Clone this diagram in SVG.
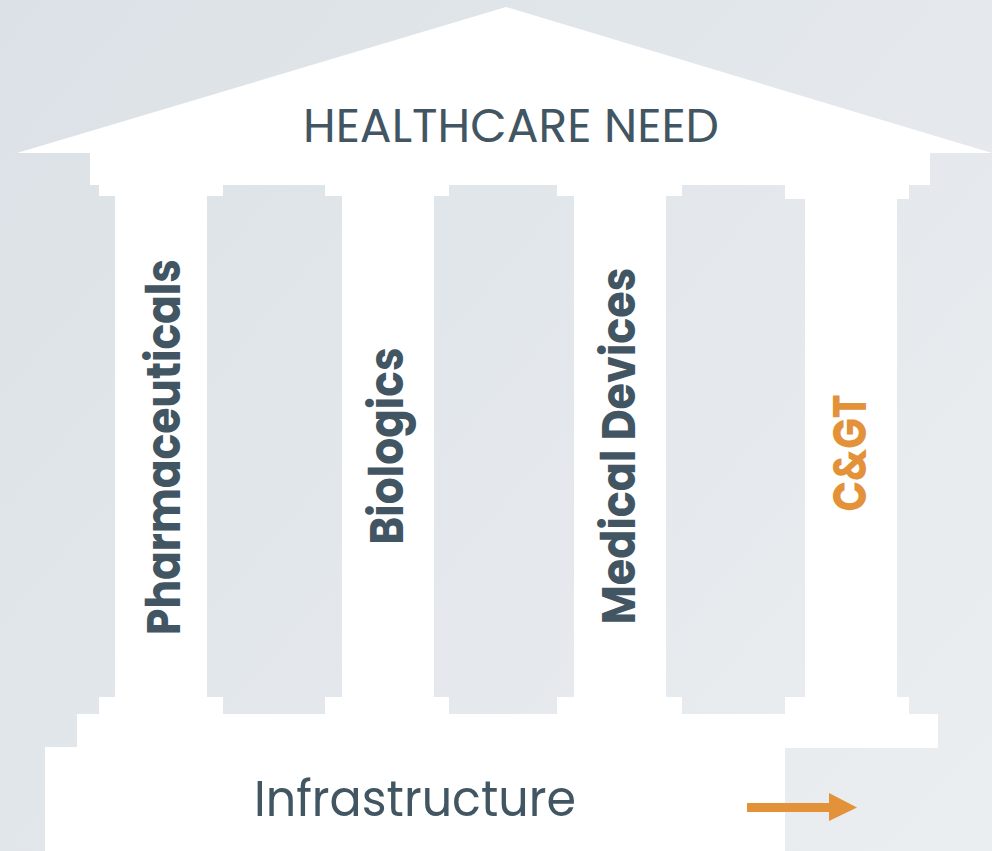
<svg xmlns="http://www.w3.org/2000/svg" width="992" height="851" viewBox="0 0 992 851">
  <defs>
    <linearGradient id="bg" x1="0" y1="0" x2="992" y2="851" gradientUnits="userSpaceOnUse">
      <stop offset="0" stop-color="#dbe1e6"/>
      <stop offset="1" stop-color="#ebeef1"/>
    </linearGradient>
    <style>
      .stone { fill: #ffffff; }
      .title { font-family: "Poppins", "Liberation Sans", Arial, sans-serif; font-weight: 400; fill: #425562; text-anchor: middle; }
      .pillar { font-family: "Poppins", "Liberation Sans", Arial, sans-serif; font-weight: 700; font-size: 48px; fill: #425562; text-anchor: middle; }
      .accent { fill: #e3923a; }
    </style>
  </defs>

  <!-- backdrop -->
  <rect x="0" y="0" width="992" height="851" fill="url(#bg)"/>

  <!-- roof and entablature -->
  <g id="roof">
    <polygon class="stone" points="17,153 506,7 992,153"/>
    <rect class="stone" x="90" y="152" width="840" height="33"/>
    <text class="title" x="511" y="142" font-size="47" textLength="416" lengthAdjust="spacingAndGlyphs">HEALTHCARE NEED</text>
  </g>

  <!-- pillars: capital, shaft, base, label -->
  <g id="pillar-pharmaceuticals">
    <rect class="stone" x="99" y="184" width="124" height="12"/>
    <rect class="stone" x="115" y="195" width="92" height="503"/>
    <rect class="stone" x="99" y="697" width="124" height="18"/>
    <text class="pillar" transform="translate(180,447) rotate(-90)" textLength="376" lengthAdjust="spacingAndGlyphs">Pharmaceuticals</text>
  </g>

  <g id="pillar-biologics">
    <rect class="stone" x="325" y="184" width="124" height="12"/>
    <rect class="stone" x="342" y="195" width="92" height="503"/>
    <rect class="stone" x="325" y="697" width="124" height="18"/>
    <text class="pillar" transform="translate(403,446) rotate(-90)" textLength="197" lengthAdjust="spacingAndGlyphs">Biologics</text>
  </g>

  <g id="pillar-medical-devices">
    <rect class="stone" x="557" y="184" width="125" height="12"/>
    <rect class="stone" x="574" y="195" width="92" height="503"/>
    <rect class="stone" x="557" y="697" width="125" height="18"/>
    <text class="pillar" transform="translate(635,446) rotate(-90)" textLength="357" lengthAdjust="spacingAndGlyphs">Medical Devices</text>
  </g>

  <g id="pillar-cgt">
    <rect class="stone" x="785" y="184" width="124" height="15"/>
    <rect class="stone" x="805" y="198" width="92" height="500"/>
    <rect class="stone" x="785" y="697" width="124" height="18"/>
    <text class="pillar accent" transform="translate(866,453) rotate(-90)" textLength="117" lengthAdjust="spacingAndGlyphs">C&amp;GT</text>
  </g>

  <!-- stepped foundation -->
  <g id="infrastructure">
    <rect class="stone" x="77" y="714" width="861" height="34"/>
    <rect class="stone" x="45" y="747" width="740" height="104"/>
    <text class="title" x="415" y="816" font-size="50" textLength="322" lengthAdjust="spacingAndGlyphs">Infrastructure</text>
  </g>

  <!-- direction arrow -->
  <g id="connectors">
    <rect class="accent" x="747" y="803" width="83" height="9"/>
    <polygon class="accent" points="829,793 857,807.5 829,821"/>
  </g>
</svg>
